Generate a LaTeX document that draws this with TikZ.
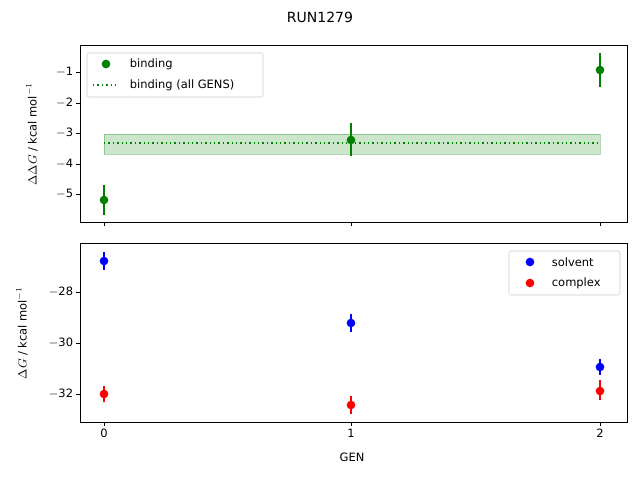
\documentclass[tikz,border=0pt]{standalone}
\usepackage{fontspec}
\setmainfont{DejaVu Sans}
\definecolor{mplgreen}{RGB}{0,128,0}
\tikzset{
  tick/.style={font=\fontsize{8.6}{10}\selectfont, inner sep=2pt},
  pt/.style={circle, inner sep=0pt, minimum size=6.5pt, fill=#1},
  err/.style={#1, line width=1.1pt},
  dots/.style={mplgreen, line width=1.1pt, dash pattern=on 1.1pt off 2.2pt},
}
\begin{document}
\begin{tikzpicture}[x=0.75pt, y=-0.75pt]
    \useasboundingbox (0,0) rectangle (640,480);
    \node[font=\fontsize{10.5}{12}\selectfont] (title) at (320,17) {RUN1279};

    %% top axes
    \fill[mplgreen, opacity=0.2] (104,134) rectangle (600,154);
    \draw[mplgreen, opacity=0.3] (104,134) rectangle (600,154);
    \draw[dots] (104,143) -- (600,143);
    \foreach \x/\lo/\hi/\y in {104/185/215/200, 351/123/156/140, 600/53/87/70}{
        \draw[err=mplgreen] (\x,\lo) -- (\x,\hi);
        \node[pt=mplgreen] at (\x,\y) {};
    }
    \draw[line width=0.6pt] (80,45) rectangle (627,222);
    \foreach \v/\y in {1/72,2/103,3/133,4/164,5/194}{
        \draw (80,\y) -- ++(-4,0) node[tick, anchor=east]{$-$\v};
    }
    \foreach \x in {104,351,600} \draw (\x,222) -- ++(0,4);
    \node[tick, rotate=90] (ylabtop) at (32,134) {$\Delta\Delta G$ / kcal mol$^{-1}$};
    % legend
    \draw[black!20, fill=white, rounded corners=1.5pt] (87,53) rectangle (263,97);
    \node[pt=mplgreen] (lg1) at (106,64) {};
    \node[tick, anchor=west] at (127,64) {binding};
    \draw[dots] (93,85) -- (119,85);
    \node[tick, anchor=west] at (127,85) {binding (all GENS)};

    %% bottom axes
    \foreach \x/\lo/\hi/\y in {104/252/270/261, 351/314/332/323, 600/359/375/367}{
        \draw[err=blue] (\x,\lo) -- (\x,\hi);
        \node[pt=blue] at (\x,\y) {};
    }
    \foreach \x/\lo/\hi/\y in {104/386/402/394, 351/396/414/405, 600/380/400/391}{
        \draw[err=red] (\x,\lo) -- (\x,\hi);
        \node[pt=red] at (\x,\y) {};
    }
    \draw[line width=0.6pt] (80,243) rectangle (627,422);
    \foreach \v/\y in {28/292,30/343,32/394}{
        \draw (80,\y) -- ++(-4,0) node[tick, anchor=east]{$-$\v};
    }
    \foreach \v/\x in {0/104,1/351,2/600}{
        \draw (\x,422) -- ++(0,4) node[tick, anchor=north]{\v};
    }
    \node[tick] (xlab) at (352,457) {GEN};
    \node[tick, rotate=90] (ylabbot) at (22,333) {$\Delta G$ / kcal mol$^{-1}$};
    % legend
    \draw[black!20, fill=white, rounded corners=1.5pt] (509,251) rectangle (620,295);
    \node[pt=blue] (lg2) at (530,262) {};
    \node[tick, anchor=west] at (549,262) {solvent};
    \node[pt=red] (lg3) at (530,283) {};
    \node[tick, anchor=west] at (549,283) {complex};
\end{tikzpicture}
\end{document}
